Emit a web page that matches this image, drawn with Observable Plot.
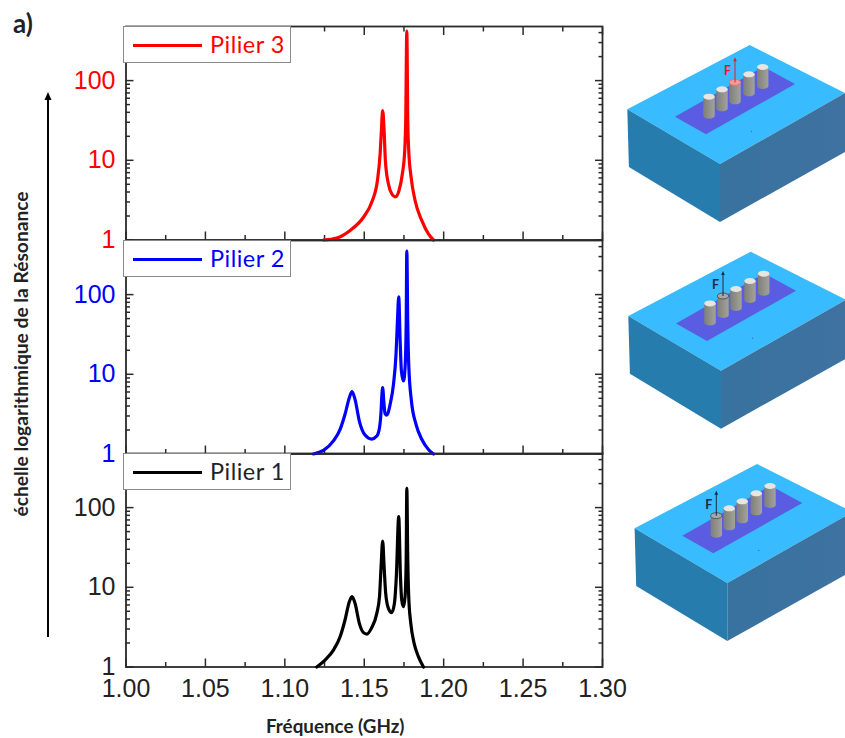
<!DOCTYPE html>
<html><head><meta charset="utf-8">
<script src="https://cdn.jsdelivr.net/npm/d3@7"></script>
<script src="https://cdn.jsdelivr.net/npm/@observablehq/plot@0.6"></script>
<style>
html,body{margin:0;padding:0;background:#fff;width:845px;height:738px;overflow:hidden;font-family:Lato,sans-serif}
#stage{position:relative;width:845px;height:738px}
#stage>svg,.p{position:absolute}
.p svg{display:block;overflow:visible;background:transparent}
.leg{position:absolute;box-sizing:border-box;left:123px;width:168px;height:36.5px;background:#fff;border:1.3px solid #8a8a8a;font:23.5px Lato,sans-serif}
.leg i{position:absolute;left:9px;top:16.5px;width:69px;height:3px}
.leg span{position:absolute;left:86px;top:3px;letter-spacing:.5px;white-space:nowrap}
.t{position:absolute;font-family:Lato,sans-serif;font-weight:700;color:#222;white-space:nowrap}
</style></head><body><div id="stage"></div>
<script>
const pilier3F = [1.1243,1.1327,1.1411,1.1495,1.1547,1.1583,1.1600,1.1608,1.1616,1.1625,1.1633,1.1652,1.1673,1.1696,1.1719,1.1740,1.1755,1.1761,1.1768,1.1774,1.1780,1.1795,1.1820,1.1862,1.1904,1.1936];
const pilier3A = [1,1.06,1.32,1.93,2.98,5.58,12.1,23.7,42,23.7,9.9,5.07,3.8,3.48,4.18,6.77,13.3,31.6,417,31.6,13.3,6.14,3.13,1.76,1.19,1];
const pilier2F = [1.1180,1.1243,1.1306,1.1348,1.1379,1.1406,1.1423,1.1442,1.1469,1.1505,1.1547,1.1579,1.1596,1.1606,1.1610,1.1616,1.1623,1.1631,1.1642,1.1663,1.1684,1.1700,1.1709,1.1717,1.1726,1.1734,1.1747,1.1757,1.1764,1.1768,1.1774,1.1780,1.1797,1.1826,1.1862,1.1904,1.1936];
const pilier2A = [1,1.11,1.46,2.04,3.15,5.09,6.06,4.85,2.59,1.73,1.54,1.68,2.14,3.46,5.09,6.8,4.62,3.21,3.08,4.2,7.48,17.8,46.6,94,26.2,11,8.24,12.1,42.4,352,42.4,13.3,4.62,2.36,1.53,1.14,1];
const pilier1F = [1.1201,1.1253,1.1306,1.1348,1.1379,1.1406,1.1423,1.1442,1.1469,1.1495,1.1516,1.1547,1.1579,1.1596,1.1606,1.1616,1.1625,1.1635,1.1652,1.1673,1.1690,1.1702,1.1717,1.1728,1.1736,1.1747,1.1757,1.1764,1.1768,1.1774,1.1780,1.1793,1.1814,1.1841,1.1873];
const pilier1A = [1,1.22,1.63,2.4,3.89,6.6,7.63,6.29,3.53,2.7,2.59,3.12,4.71,7.63,18.2,38.1,18.2,8.4,5.45,4.81,6.29,13.6,76.9,13.6,6.93,5.71,7.63,22,175,22,7.63,3.53,1.98,1.35,1];
const xMajor = [1,1.05,1.1,1.15,1.2,1.25,1.3];
const xMinor = [1.025,1.075,1.125,1.175,1.225,1.275];
const yMajor = [1,10,100];
const yMinor = [2,3,4,5,6,7,8,9,20,30,40,50,60,70,80,90,200,300,400];
const xLabels = ["1.00","1.05","1.10","1.15","1.20","1.25","1.30"];

const stage = document.getElementById("stage");
const INK = "#2a2a2a";

function panel({top, F, A, color, topTicks, xText}) {
  const plotH = 213.5, pad = 1, below = xText ? 60 : 1;
  const data = F.map((f, i) => ({f, a: A[i]}));
  const ax = (o) => ({label: null, stroke: INK, strokeWidth: 1.5, ...o});
  const marks = [
    Plot.axisX({...ax({anchor: "bottom", ticks: xMajor, tickSize: -8}), fill: "none"}),
    Plot.axisX({...ax({anchor: "bottom", ticks: xMinor, tickSize: -4.5}), fill: "none"}),
    Plot.axisY({...ax({anchor: "left", ticks: yMajor, tickSize: -8}), fill: "none"}),
    Plot.axisY({...ax({anchor: "left", ticks: yMinor, tickSize: -4.5}), fill: "none"}),
    Plot.axisY({...ax({anchor: "right", ticks: yMajor, tickSize: -8}), fill: "none"}),
    Plot.axisY({...ax({anchor: "right", ticks: yMinor, tickSize: -4.5}), fill: "none"}),
    Plot.axisY({anchor: "left", ticks: yMajor, tickSize: 0, tickPadding: 10.5, label: null,
      tickFormat: d => String(d), fontSize: 25, fontFamily: "Liberation Sans", fill: color === "#000000" ? "#222" : color}),
    Plot.frame({stroke: INK, strokeWidth: 1.8}),
    Plot.line(data, {x: "f", y: "a", stroke: color, strokeWidth: 3.2, curve: "monotone-x", strokeLinejoin: "round"})
  ];
  if (topTicks) {
    marks.push(Plot.axisX({...ax({anchor: "top", ticks: xMajor, tickSize: -8}), fill: "none"}));
    marks.push(Plot.axisX({...ax({anchor: "top", ticks: xMinor, tickSize: -4.5}), fill: "none"}));
  }
  if (xText) {
    marks.push(Plot.axisX({anchor: "bottom", ticks: xMajor, tickSize: 0, tickPadding: 12, label: null,
      tickFormat: (d, i) => xLabels[i], fontSize: 25, fontFamily: "Liberation Sans", fill: "#222"}));
  }
  const svg = Plot.plot({
    width: 845, height: plotH + pad + below,
    marginLeft: 125.5, marginRight: 243, marginTop: pad, marginBottom: below,
    style: {background: "transparent", overflow: "visible"},
    x: {type: "linear", domain: [1, 1.3], axis: null},
    y: {type: "log", domain: [1, Math.pow(10, plotH / 79.7)], axis: null},
    marks
  });
  const d = document.createElement("div");
  d.className = "p";
  d.style.left = "0px"; d.style.top = (top - pad) + "px";
  d.appendChild(svg);
  stage.appendChild(d);
}

panel({top: 26, F: pilier3F, A: pilier3A, color: "#ff0000", topTicks: true});
panel({top: 239.5, F: pilier2F, A: pilier2A, color: "#0000ff"});
panel({top: 453, F: pilier1F, A: pilier1A, color: "#000000", xText: true});

[["Pilier 3", "#ff0000", 26], ["Pilier 2", "#0000ff", 240], ["Pilier 1", "#000000", 453.3]].forEach(([name, c, y]) => {
  const l = document.createElement("div");
  l.className = "leg"; l.style.top = y + "px";
  l.innerHTML = `<i style="background:${c}"></i><span style="color:${c === "#000000" ? "#222" : c}">${name}</span>`;
  stage.appendChild(l);
});

function addText(txt, css) {
  const t = document.createElement("div");
  t.className = "t"; t.textContent = txt; t.style.cssText = css;
  stage.appendChild(t);
}
addText("a)", "left:13px;top:7px;font-size:26px");
addText("Fréquence (GHz)", "left:266px;top:714px;font-size:18.8px");
addText("échelle logarithmique de la Résonance", "left:20px;top:354px;font-size:19.2px;transform:translate(-50%,-50%) rotate(-90deg)");

// Side arrow and the three 3-D illustrations (decoration, not data)
const ov = d3.select(stage).append("svg").attr("width", 845).attr("height", 738).style("left", 0).style("top", 0).style("pointer-events", "none");
const defs = ov.append("defs");
const gr = defs.append("linearGradient").attr("id", "rf").attr("x1", 0).attr("x2", 1).attr("y1", 0).attr("y2", 0);
gr.append("stop").attr("offset", 0).attr("stop-color", "#38729e");
gr.append("stop").attr("offset", 1).attr("stop-color", "#3f72a0");
const pg = defs.append("linearGradient").attr("id", "pg").attr("x1", 0).attr("x2", 1).attr("y1", 0).attr("y2", 0);
pg.append("stop").attr("offset", 0).attr("stop-color", "#7f7f7a");
pg.append("stop").attr("offset", 1).attr("stop-color", "#a3a29d");
ov.append("line").attr("x1", 48).attr("x2", 48).attr("y1", 637).attr("y2", 98).attr("stroke", "#000").attr("stroke-width", 2);
ov.append("path").attr("d", "M48 92 L44.5 100 L51.5 100 Z").attr("fill", "#000");

function box(dx, dy, active, col) {
  const g = ov.append("g").attr("transform", `translate(${dx},${dy})`);
  const poly = (p, f) => g.append("polygon").attr("points", p).attr("fill", f);
  poly("627.3,109.3 749.7,45 845,93 845,93 720,164", "#38bcff");
  poly("627.3,109.3 720,164 720,222 628.9,167", "#277cae");
  poly("720,164 845,93 845,152 720,222", "url(#rf)");
  poly("675,116.7 706,134.3 795,84 763.3,66.7", "#5a5ce2");
  const pillars = [[709, 96.7], [722, 89.3], [735, 82.3], [749, 74.3], [762.7, 67]];
  pillars.forEach(([x, y], i) => {
    const w = 5.7, h = 19, ry = 3;
    g.append("path").attr("d", `M${x - w} ${y} L${x - w} ${y + h} A${w} ${ry} 0 0 0 ${x + w} ${y + h} L${x + w} ${y} Z`).attr("fill", "url(#pg)");
    const on = i === active;
    g.append("ellipse").attr("cx", x).attr("cy", y).attr("rx", w).attr("ry", ry)
      .attr("fill", on ? (col === "#e02020" ? "#f39a9a" : "#a5a8a8") : "#e6e5e0")
      .attr("stroke", on ? (col === "#e02020" ? "#f07070" : "#555") : "none").attr("stroke-width", on ? 1 : 0);
    if (on) {
      g.append("line").attr("x1", x).attr("x2", x).attr("y1", y).attr("y2", y - 22).attr("stroke", col).attr("stroke-width", 1);
      g.append("path").attr("d", `M${x} ${y - 25} L${x - 1.8} ${y - 21} L${x + 1.8} ${y - 21} Z`).attr("fill", col);
      g.append("text").attr("x", x - 7.5).attr("y", y - 7).attr("text-anchor", "middle").attr("font-family", "Lato").attr("font-weight", 700).attr("font-size", 12.5).attr("fill", col).text("F");
    }
  });
  g.append("circle").attr("cx", 751.5).attr("cy", 131.5).attr("r", .7).attr("fill", "#3a68d8");
}
box(0, 0, 2, "#e02020");
box(1, 206.7, 1, "#1a2a44");
box(7.3, 419, 0, "#1a2a44");
</script></body></html>
